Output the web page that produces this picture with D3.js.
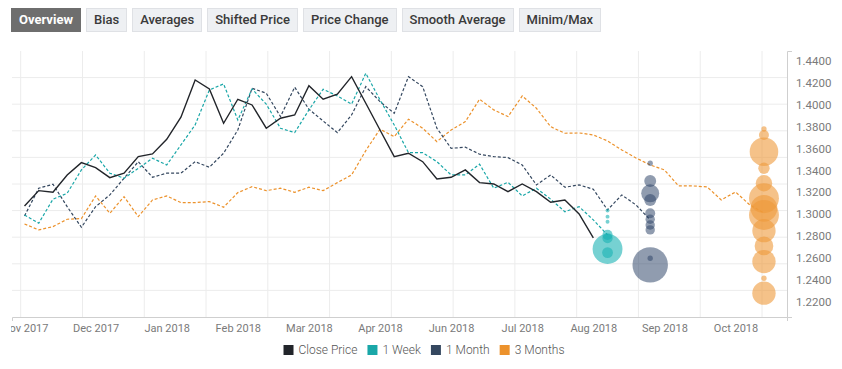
<!DOCTYPE html>
<html lang="en">
<head>
<meta charset="UTF-8">
<title>Overview</title>
<script src="https://cdn.jsdelivr.net/npm/d3@7/dist/d3.min.js"></script>
<style>
	body { margin: 0; background: #fff; font-family: Roboto, "Open Sans", sans-serif; }
	#wrap { position: relative; width: 842px; height: 369px; overflow: hidden; }
	.tabs { position: absolute; left: 11px; top: 8px; display: flex; gap: 5px; width: 800px; }
	.tab {
		flex-shrink: 0; white-space: nowrap;
		height: 24px; line-height: 22px; padding: 0 7px; box-sizing: border-box;
		font-size: 13px; font-weight: 500; color: #3a3a3a;
		background: #eef0f3; border: 1px solid #dfe1e5;
	}
	.tab.active { background: #6e6e6e; color: #fff; border-color: #6e6e6e; font-weight: 700; }
	svg { position: absolute; left: 0; top: 0; }
	.grid line { stroke: #ececec; stroke-width: 1; }
	.axis path { stroke: #cfcfcf; }
	.axis text { fill: #7a7a7a; font-family: Roboto, sans-serif; }
	.legend text { fill: #555; font-size: 12px; font-weight: 300; }
</style>
</head>
<body>
<div id="wrap">
	<div class="tabs"></div>
</div>

<script>
	var tabs = ['Overview', 'Bias', 'Averages', 'Shifted Price', 'Price Change', 'Smooth Average', 'Minim/Max'];

	// weekly points, one label every 5 weeks
	var tickLabels = ['Nov 2017', 'Dec 2017', 'Jan 2018', 'Feb 2018', 'Mar 2018', 'Apr 2018',
		'Jun 2018', 'Jul 2018', 'Aug 2018', 'Sep 2018', 'Oct 2018'];
	var yTicks = [1.22, 1.24, 1.26, 1.28, 1.30, 1.32, 1.34, 1.36, 1.38, 1.40, 1.42, 1.44];

	var closePrice = [1.3075, 1.3215, 1.3200, 1.3358, 1.3470, 1.3425, 1.3333, 1.3374, 1.3525, 1.3550,
		1.3683, 1.3884, 1.4224, 1.4142, 1.3829, 1.4048, 1.3996, 1.3784, 1.3875, 1.3905,
		1.4172, 1.4048, 1.4094, 1.4254, 1.4012, 1.3768, 1.3525, 1.3556, 1.3479, 1.3322,
		1.3337, 1.3404, 1.3288, 1.3276, 1.3206, 1.3276, 1.3206, 1.3109, 1.3130, 1.3003,
		1.2784];

	var week1 = [1.2993, 1.2918, 1.3137, 1.3191, 1.3404, 1.3540, 1.3374, 1.3328, 1.3419, 1.3510,
		1.3449, 1.3632, 1.3814, 1.4133, 1.4188, 1.3859, 1.4142, 1.4003, 1.3784, 1.3744,
		1.3951, 1.4139, 1.4078, 1.4003, 1.4285, 1.4042, 1.3814, 1.3561, 1.3561, 1.3479,
		1.3358, 1.3358, 1.3456, 1.3237, 1.3291, 1.3167, 1.3237, 1.3137, 1.3023, 1.3069,
		1.2948, 1.2811];

	var month1 = [1.2984, 1.3237, 1.3273, 1.3069, 1.2881, 1.3069, 1.3176, 1.3328, 1.3479, 1.3337,
		1.3374, 1.3374, 1.3479, 1.3428, 1.3556, 1.3768, 1.4148, 1.4103, 1.3890, 1.4158,
		1.3957, 1.3850, 1.3744, 1.3905, 1.4163, 1.4026, 1.3920, 1.4254, 1.4163, 1.3784,
		1.3601, 1.3611, 1.3547, 1.3525, 1.3516, 1.3449, 1.3267, 1.3358, 1.3246, 1.3267,
		1.3228, 1.3039, 1.3176, 1.3085, 1.2948];

	var months3 = [1.2911, 1.2857, 1.2887, 1.2954, 1.2960, 1.3167, 1.3009, 1.3160, 1.2978, 1.3130,
		1.3167, 1.3106, 1.3106, 1.3115, 1.3064, 1.3197, 1.3251, 1.3215, 1.3237, 1.3200,
		1.3246, 1.3215, 1.3288, 1.3358, 1.3580, 1.3775, 1.3707, 1.3866, 1.3784, 1.3662,
		1.3768, 1.3844, 1.4048, 1.3951, 1.3890, 1.4078, 1.3966, 1.3798, 1.3738, 1.3741,
		1.3723, 1.3668, 1.3586, 1.3513, 1.3449, 1.3404, 1.3258, 1.3258, 1.3249, 1.3130,
		1.3203, 1.3085, 1.3012];

	// forecast distributions: [price, weight]
	var week1Bubbles = [[1.3033, 1.2], [1.2978, 1.2], [1.2932, 1.2], [1.2811, 8], [1.2781, 8],
		[1.2683, 69], [1.2650, 9]];
	var month1Bubbles = [[1.3465, 2.2], [1.3303, 11], [1.3191, 25], [1.3130, 11], [1.3009, 7.7],
		[1.2954, 6.8], [1.2902, 6.8], [1.2857, 6.8], [1.2538, 97], [1.2599, 2.2]];
	var months3Bubbles = [[1.3777, 2.2], [1.3723, 7.7], [1.3570, 63], [1.3419, 10], [1.3282, 21],
		[1.3146, 69], [1.3054, 55], [1.2993, 69], [1.2850, 42], [1.2711, 27],
		[1.2568, 42], [1.2416, 2.2], [1.2280, 42]];

	var series = [
		{ name: 'Close Price', values: closePrice, color: '#22252a', dash: null, width: 1.4 },
		{ name: '1 Week', values: week1, color: '#1aa7a8', dash: '3,2', width: 1.2 },
		{ name: '1 Month', values: month1, color: '#34475f', dash: '3,2', width: 1.2 },
		{ name: '3 Months', values: months3, color: '#ec922c', dash: '3,2', width: 1.2 }
	];
	var bubbleSets = [
		{ data: week1Bubbles, at: 41, fill: '#1bb3b4', opacity: 0.6 },
		{ data: month1Bubbles, at: 44, fill: '#2e4468', opacity: 0.53 },
		{ data: months3Bubbles, at: 52, fill: '#ee9a3a', opacity: 0.6 }
	];

	d3.select('.tabs').selectAll('div')
		.data(tabs)
		.enter().append('div')
		.attr('class', function(d, i){ return i === 0 ? 'tab active' : 'tab'; })
		.text(function(d){ return d; });

	var W = 842, H = 369;
	var pLeft = 12, pRight = 787, pTop = 51, pBottom = 317;

	var svg = d3.select('#wrap').append('svg')
		.attr('width', W)
		.attr('height', H);

	var x = d3.scaleLinear().domain([-0.88, 53.62]).range([pLeft, pRight]);
	var y = d3.scaleLinear().domain([1.2063, 1.4488]).range([pBottom, pTop]);
	var r = d3.scaleSqrt().domain([0, 100]).range([0, 18]);

	// grid of the secondary (hidden) axes
	var gx = d3.scaleLinear().domain([0, 12]).range([20.7, 762]);
	var gy = d3.scaleLinear().domain([0, 10]).range([pBottom, pTop]);

	var grid = svg.append('g').attr('class', 'grid');
	grid.selectAll('.vg')
		.data(d3.range(13))
		.enter().append('line')
		.attr('x1', function(d){ return gx(d); })
		.attr('x2', function(d){ return gx(d); })
		.attr('y1', pTop)
		.attr('y2', pBottom);
	grid.selectAll('.hg')
		.data(d3.range(1, 10))
		.enter().append('line')
		.attr('x1', pLeft)
		.attr('x2', pRight)
		.attr('y1', function(d){ return gy(d); })
		.attr('y2', function(d){ return gy(d); });

	svg.append('clipPath').attr('id', 'clipx')
		.append('rect').attr('x', 11).attr('y', 0).attr('width', W).attr('height', H);

	var xAxis = svg.append('g')
		.attr('class', 'axis')
		.attr('clip-path', 'url(#clipx)')
		.attr('transform', 'translate(0,' + pBottom + ')')
		.call(d3.axisBottom(x)
			.tickValues(d3.range(tickLabels.length).map(function(i){ return i * 5; }))
			.tickFormat(function(d){ return tickLabels[d / 5]; })
			.tickSize(0)
			.tickSizeOuter(4)
			.tickPadding(7));
	xAxis.selectAll('text').style('font-size', '11px');

	var yAxis = svg.append('g')
		.attr('class', 'axis')
		.attr('transform', 'translate(' + pRight + ',0)')
		.call(d3.axisRight(y)
			.tickValues(yTicks)
			.tickFormat(d3.format('.4f'))
			.tickSize(0)
			.tickSizeOuter(5)
			.tickPadding(9));
	yAxis.selectAll('text').style('font-size', '11.5px');

	var line = d3.line()
		.x(function(d, i){ return x(i); })
		.y(function(d){ return y(d); });

	svg.selectAll('.series')
		.data(series.slice().reverse())
		.enter().append('path')
		.attr('class', 'series')
		.attr('fill', 'none')
		.attr('stroke', function(d){ return d.color; })
		.attr('stroke-width', function(d){ return d.width; })
		.attr('stroke-dasharray', function(d){ return d.dash; })
		.attr('d', function(d){ return line(d.values); });

	bubbleSets.forEach(function(set){
		svg.append('g').selectAll('circle')
			.data(set.data)
			.enter().append('circle')
			.attr('cx', x(set.at))
			.attr('cy', function(d){ return y(d[0]); })
			.attr('r', function(d){ return r(d[1]); })
			.attr('fill', set.fill)
			.attr('fill-opacity', set.opacity);
	});

	// legend
	var legend = svg.append('g').attr('class', 'legend');
	var items = legend.selectAll('g')
		.data(series)
		.enter().append('g');
	items.append('rect')
		.attr('width', 10).attr('height', 10)
		.attr('y', -5)
		.attr('fill', function(d){ return d.color; });
	items.append('text')
		.attr('x', 15)
		.attr('dy', '0.35em')
		.text(function(d){ return d.name; });
	var pos = 0;
	items.each(function(){
		var g = d3.select(this);
		g.attr('transform', 'translate(' + pos + ',0)');
		pos += 15 + g.select('text').node().getComputedTextLength() + 10;
	});
	pos -= 10;
	legend.attr('transform', 'translate(' + (424 - pos / 2) + ',350)');
</script>
</body>
</html>
